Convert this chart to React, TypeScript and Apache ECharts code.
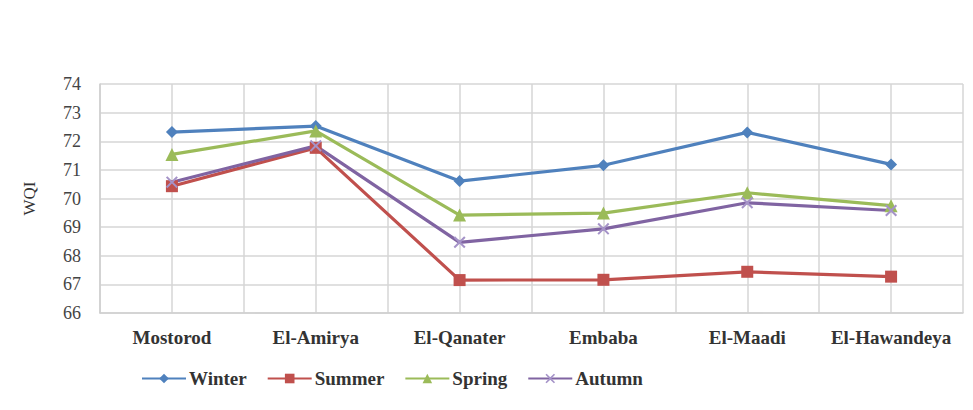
import React, { useEffect, useRef } from "react";
import * as echarts from "echarts";

const categories = ["Mostorod", "El-Amirya", "El-Qanater", "Embaba", "El-Maadi", "El-Hawandeya"];
const winter = [72.32, 72.53, 70.61, 71.16, 72.31, 71.19];
const summer = [70.43, 71.77, 67.15, 67.16, 67.44, 67.27];
const spring = [71.54, 72.36, 69.42, 69.49, 70.2, 69.75];
const autumn = [70.57, 71.84, 68.47, 68.94, 69.85, 69.58];
const halfSlots = ["a", "b", "c", "d", "e", "f", "g", "h", "i", "j", "k", "l"];

const CROSS =
  "path://M0,1.2L1.2,0L5,3.8L8.8,0L10,1.2L6.2,5L10,8.8L8.8,10L5,6.2L1.2,10L0,8.8L3.8,5Z";

const FONT = "'Liberation Serif', 'Times New Roman', serif";

export default function App() {
  const ref = useRef<HTMLDivElement>(null);
  useEffect(() => {
    if (!ref.current) return;
    const chart = echarts.init(ref.current, null, { renderer: "svg" });
    const mk = (name: string, data: number[], color: string, symbol: string, size: number, symColor?: string) => ({
      name,
      type: "line",
      data,
      xAxisIndex: 0,
      symbol,
      symbolSize: size,
      lineStyle: { color, width: 3.2 },
      itemStyle: { color: symColor || color },
    });
    chart.setOption({
      animation: false,
      textStyle: { fontFamily: FONT },
      grid: { left: 100, right: 10, top: 84, bottom: 97, containLabel: false },
      graphic: [
        {
          type: "rect",
          shape: { x: 7, y: 7, width: 960, height: 400 },
          style: { fill: "none", stroke: "#bdbdbd", lineWidth: 2 },
          z: 100,
        },
      ],
      legend: {
        left: 136,
        top: 364,
        itemWidth: 44,
        itemHeight: 12,
        itemGap: 20,
        textStyle: { fontFamily: FONT, fontSize: 19, fontWeight: "bold", color: "#333", padding: [0, 0, 0, -2] },
        data: ["Winter", "Summer", "Spring", "Autumn"],
      },
      xAxis: [
        {
          type: "category",
          data: categories,
          boundaryGap: true,
          axisLine: { show: true, lineStyle: { color: "#cfcfcf", width: 1.5 } },
          axisTick: { show: false },
          splitLine: { show: false },
          axisLabel: { fontFamily: FONT, fontSize: 19, fontWeight: "bold", color: "#333", margin: 15, interval: 0 },
        },
        {
          type: "category",
          data: halfSlots,
          position: "top",
          boundaryGap: true,
          axisLine: { show: false },
          axisTick: { show: false },
          axisLabel: { show: false },
          splitLine: { show: true, interval: 0, lineStyle: { color: "#d6d6d6", width: 1.5 } },
        },
      ],
      yAxis: {
        type: "value",
        min: 66,
        max: 74,
        interval: 1,
        name: "WQI",
        nameLocation: "middle",
        nameGap: 62,
        nameRotate: 90,
        nameTextStyle: { fontFamily: FONT, fontSize: 17, color: "#333" },
        axisLine: { show: true, lineStyle: { color: "#cfcfcf", width: 1.5 } },
        axisTick: { show: false },
        axisLabel: { fontFamily: FONT, fontSize: 18, color: "#444", margin: 19 },
        splitLine: { show: true, lineStyle: { color: "#d6d6d6", width: 1.5 } },
      },
      series: [
        mk("Winter", winter, "#4F81BD", "diamond", 12),
        mk("Summer", summer, "#C0504D", "rect", 12),
        mk("Spring", spring, "#9BBB59", "triangle", 13),
        mk("Autumn", autumn, "#8064A2", CROSS, 12, "#A593C8"),
      ],
    });
    return () => chart.dispose();
  }, []);
  return <div ref={ref} style={{ width: 973, height: 410, margin: -8, background: "#fff" }} />;
}
